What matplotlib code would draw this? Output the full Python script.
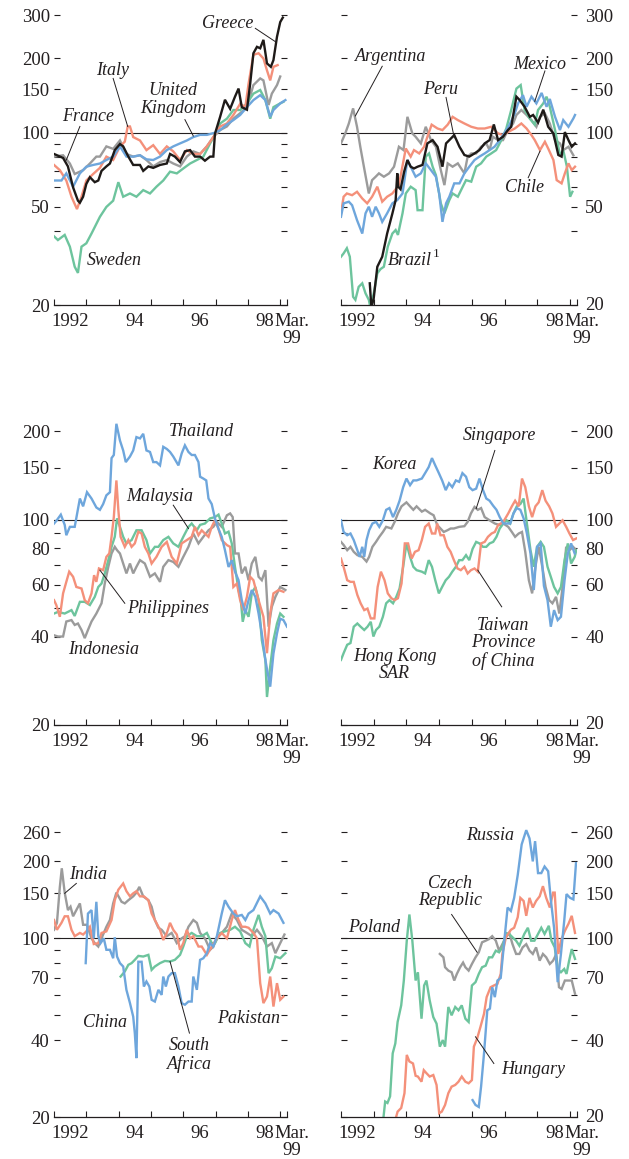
import matplotlib
matplotlib.use('Agg')
import matplotlib.pyplot as plt
from matplotlib.ticker import FixedLocator, NullFormatter, NullLocator

plt.rcParams['font.family'] = ['Liberation Serif', 'DejaVu Serif']

# Equity price indices (Jan 1997 = 100), read as (year, value)
GREECE = [(1992.00,82),(1992.28,79),(1992.43,73),(1992.59,60),(1992.74,53),(1992.80,52),(1992.90,55),(1993.00,62),(1993.11,66),(1993.26,63),(1993.37,64),(1993.47,70),(1993.62,73),(1993.73,75),(1993.88,85),(1994.04,90),(1994.14,88),(1994.30,80),(1994.45,74),(1994.66,74),(1994.76,70),(1994.92,73),(1995.07,72),(1995.28,74),(1995.49,75),(1995.59,82),(1995.74,80),(1995.90,76),(1996.05,84),(1996.21,85),(1996.36,80),(1996.52,80),(1996.67,77),(1996.83,80),(1996.93,80),(1996.98,99),(1997.14,116),(1997.29,136),(1997.45,125),(1997.60,140),(1997.71,151),(1997.81,127),(1997.97,124),(1998.07,158),(1998.17,210),(1998.28,223),(1998.38,220),(1998.48,238),(1998.59,191),(1998.71,185),(1998.79,197),(1998.90,245),(1999.00,281),(1999.08,293)]
ITALY = [(1992.00,74),(1992.18,70.5),(1992.38,64),(1992.54,55),(1992.71,49),(1992.85,55),(1993.00,64),(1993.21,68),(1993.42,72),(1993.62,80),(1993.83,77.5),(1994.04,88),(1994.19,92),(1994.28,106),(1994.35,106),(1994.45,96),(1994.66,93),(1994.86,85),(1995.07,89),(1995.28,82),(1995.49,88),(1995.69,84),(1995.90,77.5),(1996.11,85),(1996.31,82),(1996.52,82),(1996.73,88),(1996.93,96),(1997.04,101),(1997.14,106),(1997.35,109),(1997.55,118),(1997.76,131),(1997.92,127),(1998.02,158),(1998.17,207),(1998.33,210),(1998.48,200),(1998.59,179),(1998.69,163),(1998.79,185),(1998.92,188)]
FRANCE = [(1992.00,80),(1992.28,81),(1992.49,75),(1992.64,68),(1992.90,70.5),(1993.11,75),(1993.31,80),(1993.42,80),(1993.62,88),(1993.83,86),(1994.04,93),(1994.24,82),(1994.45,80),(1994.66,81),(1994.86,77.5),(1995.07,73),(1995.28,76),(1995.49,77.5),(1995.69,75),(1995.90,73),(1996.11,80),(1996.31,84),(1996.52,82),(1996.73,88),(1996.93,96),(1997.14,102.5),(1997.35,106),(1997.55,114),(1997.76,120),(1997.97,127),(1998.17,156),(1998.38,166),(1998.48,163),(1998.64,129.5),(1998.74,144),(1998.90,156),(1999.00,169)]
SWEDEN = [(1992.00,38),(1992.12,36.7),(1992.33,38.5),(1992.49,34.5),(1992.64,28.6),(1992.74,27),(1992.85,34.5),(1993.00,35.6),(1993.16,39),(1993.42,45.6),(1993.62,50),(1993.83,53),(1993.99,63),(1994.14,55),(1994.35,56.7),(1994.55,55),(1994.76,58.5),(1994.97,56.7),(1995.17,60.4),(1995.38,64),(1995.59,69.5),(1995.80,68.4),(1996.00,71.6),(1996.21,75),(1996.42,77.5),(1996.62,80),(1996.83,90.5),(1996.98,98),(1997.14,109),(1997.35,114),(1997.55,123.6),(1997.76,123.6),(1997.97,131.5),(1998.17,144),(1998.38,149),(1998.54,135.6),(1998.69,114),(1998.79,127),(1999.00,131.5),(1999.10,133.5)]
UK = [(1992.00,64),(1992.23,64),(1992.38,68.4),(1992.59,60.4),(1992.80,68.4),(1993.00,72.8),(1993.21,74),(1993.42,75),(1993.62,77.5),(1993.83,80),(1994.04,88),(1994.24,80),(1994.45,80),(1994.66,81),(1994.86,78),(1995.07,77.5),(1995.28,80),(1995.49,85),(1995.69,88),(1995.90,90.5),(1996.11,93),(1996.31,96),(1996.52,98),(1996.73,98),(1996.98,100),(1997.14,102.5),(1997.35,108),(1997.55,112.5),(1997.76,118),(1997.97,127),(1998.17,135.6),(1998.38,142),(1998.54,135.6),(1998.69,116),(1998.79,123.6),(1999.00,131.5),(1999.16,135.6)]

ARGENTINA = [(1992.00,90.5),(1992.13,99.3),(1992.24,109),(1992.37,125.5),(1992.49,105.7),(1992.59,87.7),(1992.70,72.8),(1992.85,56.7),(1992.95,64.2),(1993.06,66.3),(1993.16,68.4),(1993.31,66.3),(1993.47,68.4),(1993.62,72.8),(1993.77,87.7),(1993.91,85),(1994.03,116),(1994.18,99.3),(1994.28,96.3),(1994.44,90.5),(1994.59,105.7),(1994.75,93.3),(1994.90,87.7),(1995.05,70.5),(1995.16,61.3),(1995.26,75.1),(1995.41,72.8),(1995.57,75.1),(1995.77,68.4),(1995.87,80),(1995.98,82.4),(1996.13,82.4),(1996.28,87.7),(1996.44,90.5),(1996.54,85),(1996.64,96.3),(1996.80,93.3),(1996.95,93.3),(1997.10,102.5),(1997.26,109),(1997.36,118),(1997.51,123.6),(1997.67,118),(1997.82,112.5),(1997.97,105.7),(1998.08,116),(1998.23,119.7),(1998.38,109),(1998.54,93.3),(1998.69,90.5),(1998.79,85),(1998.95,87.7),(1999.10,81)]
CHILE = [(1992.00,47.1),(1992.08,55),(1992.18,56.7),(1992.34,55.8),(1992.49,57.6),(1992.65,54.1),(1992.80,51.7),(1992.95,55),(1993.11,60.4),(1993.26,52.5),(1993.41,55),(1993.57,56.7),(1993.77,61.3),(1993.98,86.3),(1994.13,80),(1994.23,85),(1994.39,82.4),(1994.54,87.7),(1994.64,96.3),(1994.77,107.8),(1994.95,104),(1995.10,102.5),(1995.26,107.8),(1995.41,116),(1995.57,112.5),(1995.77,109),(1995.98,105.7),(1996.18,104),(1996.39,104),(1996.59,105.7),(1996.80,99.3),(1996.95,97.8),(1997.10,100.6),(1997.31,104),(1997.51,109),(1997.67,104),(1997.82,97.8),(1997.92,93.3),(1998.08,85),(1998.23,91.9),(1998.33,86.3),(1998.49,77.5),(1998.59,64.2),(1998.74,62.3),(1998.84,68.4),(1998.95,75.1),(1999.05,70.5),(1999.15,72.8)]
PERU = [(1992.88,24.5),(1992.93,19.5),(1993.00,21.3),(1993.11,28.6),(1993.26,31.4),(1993.41,39),(1993.57,47),(1993.67,53.3),(1993.72,68.4),(1993.75,60.4),(1993.82,59),(1993.93,69.5),(1994.03,77.5),(1994.13,72.8),(1994.23,71.6),(1994.34,72.8),(1994.49,74),(1994.64,90.5),(1994.80,93.3),(1994.95,87.7),(1995.10,72.8),(1995.21,90.5),(1995.31,93.3),(1995.46,97.8),(1995.62,87.7),(1995.77,81.2),(1995.92,80),(1996.08,82.4),(1996.23,85),(1996.39,90.5),(1996.54,93.3),(1996.67,108),(1996.80,93.3),(1996.95,96.3),(1997.10,102.5),(1997.20,105.7),(1997.36,140),(1997.46,135.6),(1997.61,127.4),(1997.77,116),(1997.87,118),(1998.02,110),(1998.18,124),(1998.33,105.7),(1998.49,99.3),(1998.64,81.2),(1998.74,80),(1998.84,100.6),(1998.95,93.3),(1999.05,87.7),(1999.15,90.5)]
BRAZIL = [(1992.00,31.4),(1992.08,32.4),(1992.18,34),(1992.27,31.4),(1992.37,21.6),(1992.44,21),(1992.54,23.7),(1992.65,24.5),(1992.75,22.3),(1992.85,21),(1992.90,19.5),(1993.00,22.3),(1993.11,26.9),(1993.21,28),(1993.31,28.6),(1993.43,34.5),(1993.57,39),(1993.67,40.3),(1993.74,38.5),(1993.88,47.1),(1993.98,56.7),(1994.13,60.4),(1994.28,58.5),(1994.34,48.5),(1994.49,48.5),(1994.59,80),(1994.69,82.4),(1994.80,72.8),(1994.90,67.3),(1995.05,51.7),(1995.16,47.1),(1995.31,53.3),(1995.41,56.7),(1995.57,55),(1995.72,60.4),(1995.82,64.2),(1995.98,63.3),(1996.13,72.8),(1996.28,75.1),(1996.44,80),(1996.59,82.4),(1996.74,85),(1996.90,93.3),(1997.05,104),(1997.20,123.6),(1997.36,151),(1997.49,156),(1997.61,123.6),(1997.77,114),(1997.92,107.8),(1998.02,123.6),(1998.18,131.5),(1998.28,140),(1998.38,127.4),(1998.54,102.5),(1998.69,81.2),(1998.79,85),(1998.90,73),(1999.00,55),(1999.07,57.6)]
MEXICO = [(1992.00,45.6),(1992.08,51.7),(1992.24,52.5),(1992.34,50.8),(1992.49,44.2),(1992.65,39),(1992.75,47.1),(1992.85,50.1),(1992.95,45.6),(1993.06,50.1),(1993.16,47.1),(1993.26,43.5),(1993.41,47.1),(1993.57,51.7),(1993.72,53.3),(1993.88,56.7),(1994.03,77.5),(1994.13,72.8),(1994.28,66.3),(1994.44,68.4),(1994.59,75.1),(1994.75,70.5),(1994.90,66.3),(1995.00,56.7),(1995.10,43.5),(1995.21,51.7),(1995.31,55),(1995.46,62.3),(1995.62,62.3),(1995.77,68.4),(1995.92,72.8),(1996.08,77.5),(1996.23,80),(1996.39,82.4),(1996.54,85),(1996.69,87.7),(1996.85,93.3),(1997.00,100),(1997.15,107.8),(1997.31,119.7),(1997.41,131.5),(1997.56,142),(1997.67,127.4),(1997.82,140),(1997.97,131.5),(1998.13,145),(1998.28,127.4),(1998.38,137),(1998.54,116),(1998.69,102.5),(1998.79,112.5),(1998.95,105.7),(1999.10,114.3),(1999.15,118)]

THAILAND = [(1992.00,97),(1992.07,99),(1992.21,104),(1992.33,96),(1992.38,88.5),(1992.49,94.5),(1992.64,94.5),(1992.80,118),(1992.90,111),(1993.02,124),(1993.16,118),(1993.31,110),(1993.42,108),(1993.52,113),(1993.62,121),(1993.73,124),(1993.78,162),(1993.85,166),(1993.93,212),(1994.04,186),(1994.14,172),(1994.22,157),(1994.35,164),(1994.45,172),(1994.55,191),(1994.66,189),(1994.76,196),(1994.86,172),(1994.97,170),(1995.07,157),(1995.17,157),(1995.28,153),(1995.38,177),(1995.49,174),(1995.59,170),(1995.69,164),(1995.85,153),(1995.95,168),(1996.05,179),(1996.16,170),(1996.26,166),(1996.36,166),(1996.47,157),(1996.52,140),(1996.62,138),(1996.71,136),(1996.78,118),(1996.88,113),(1996.98,101),(1997.09,93),(1997.19,87.4),(1997.29,78.7),(1997.40,69),(1997.50,72.8),(1997.60,66.5),(1997.71,62.2),(1997.81,53.2),(1997.92,47.9),(1998.02,53.2),(1998.12,57.6),(1998.23,54.6),(1998.33,47.9),(1998.43,41),(1998.54,33.3),(1998.59,31),(1998.69,27),(1998.79,35),(1998.90,41),(1999.00,46),(1999.10,45.5),(1999.21,43.2)]
MALAYSIA = [(1992.00,47.9),(1992.12,48.5),(1992.33,47.9),(1992.54,49.2),(1992.64,47),(1992.80,52.5),(1992.95,52.5),(1993.11,51.2),(1993.26,54.6),(1993.37,59),(1993.47,60.6),(1993.57,65.6),(1993.68,72.8),(1993.78,80.8),(1993.88,87.4),(1993.95,101),(1994.04,94.5),(1994.14,87.4),(1994.24,83),(1994.40,85.2),(1994.55,92),(1994.71,92),(1994.86,85.2),(1994.97,76.7),(1995.12,80.8),(1995.23,80.8),(1995.38,85.2),(1995.54,87.4),(1995.69,83),(1995.85,80.8),(1996.00,87.4),(1996.16,94.5),(1996.26,97),(1996.42,92),(1996.52,96),(1996.67,97),(1996.83,101),(1996.98,102),(1997.09,104),(1997.19,97),(1997.29,89.7),(1997.40,91),(1997.50,83),(1997.60,69),(1997.71,57.6),(1997.78,53.2),(1997.84,44.9),(1997.92,49.2),(1998.02,46.7),(1998.12,56.1),(1998.23,59),(1998.33,53.2),(1998.43,38.9),(1998.54,33.3),(1998.59,24.9),(1998.69,31.6),(1998.79,38.9),(1998.90,44.3),(1999.00,47.9),(1999.10,46.7)]
PHILIPPINES = [(1992.00,53.2),(1992.07,51.2),(1992.18,46.7),(1992.28,56.1),(1992.38,61.4),(1992.47,66.5),(1992.59,63.9),(1992.69,59),(1992.85,58.3),(1992.95,53.2),(1993.05,51.9),(1993.16,56.1),(1993.24,64.7),(1993.31,61.4),(1993.39,68.2),(1993.52,67.3),(1993.62,74.7),(1993.71,76.7),(1993.78,87.4),(1993.85,102),(1993.93,136),(1993.99,108),(1994.06,87.4),(1994.19,80.8),(1994.30,85.2),(1994.40,80.8),(1994.50,83),(1994.61,91),(1994.71,89.7),(1994.81,80.8),(1994.92,76.7),(1995.02,70.9),(1995.17,74.7),(1995.33,80.8),(1995.49,84),(1995.64,74.7),(1995.80,70.9),(1995.95,83),(1996.11,85.2),(1996.26,87.4),(1996.36,94.5),(1996.47,88.5),(1996.57,92),(1996.67,89.7),(1996.78,87.4),(1996.88,94.5),(1996.98,99.5),(1997.09,93),(1997.19,85.2),(1997.35,81.9),(1997.45,80.8),(1997.55,59),(1997.66,60.6),(1997.76,53.2),(1997.86,49.2),(1997.97,54.6),(1998.07,63.9),(1998.17,62.2),(1998.33,53.2),(1998.48,46.7),(1998.59,35.1),(1998.69,47.9),(1998.79,56.1),(1998.95,57.6),(1999.10,56.8)]
INDONESIA = [(1992.00,40.4),(1992.12,40),(1992.28,40),(1992.38,45),(1992.54,45.5),(1992.64,43.8),(1992.74,44.3),(1992.85,42.1),(1992.95,39.5),(1993.05,42.1),(1993.16,45),(1993.31,47.9),(1993.47,51.9),(1993.57,60.6),(1993.68,69.1),(1993.78,76.7),(1993.88,80.8),(1993.95,78.7),(1994.04,76.7),(1994.14,70.9),(1994.24,65.6),(1994.35,70.9),(1994.45,65.6),(1994.55,69.1),(1994.66,72.8),(1994.81,70.9),(1994.97,63.9),(1995.12,65.6),(1995.28,61.4),(1995.38,69.1),(1995.54,72.8),(1995.69,71.8),(1995.85,69.1),(1996.00,74.7),(1996.16,80.8),(1996.31,89.7),(1996.47,83),(1996.62,87.4),(1996.78,92),(1996.93,94.5),(1997.04,98.3),(1997.19,94.5),(1997.35,103.5),(1997.45,105),(1997.53,102),(1997.60,76.7),(1997.71,76.7),(1997.81,65.6),(1997.92,69.1),(1998.02,62.2),(1998.12,70.9),(1998.23,74.7),(1998.33,63.9),(1998.43,62.2),(1998.54,67.3),(1998.64,43.2),(1998.74,50.5),(1998.85,54.6),(1999.00,59),(1999.16,57.6)]

KOREA = [(1992.00,99.5),(1992.08,90.8),(1992.19,88.5),(1992.29,89.7),(1992.39,85.2),(1992.50,78.7),(1992.57,74.7),(1992.65,80.8),(1992.71,74.7),(1992.78,85.2),(1992.86,92),(1992.96,97),(1993.07,98.3),(1993.17,94.5),(1993.28,99.5),(1993.38,108),(1993.48,109.5),(1993.59,102),(1993.69,108),(1993.79,116),(1993.90,129),(1994.00,138),(1994.11,131),(1994.21,136),(1994.31,136),(1994.47,138),(1994.57,144),(1994.68,151),(1994.78,162),(1994.88,153),(1994.99,144),(1995.09,136),(1995.20,126),(1995.30,133),(1995.40,129),(1995.51,136),(1995.61,134.5),(1995.71,144),(1995.82,140),(1995.92,129),(1996.02,126),(1996.13,127.5),(1996.23,138),(1996.34,126),(1996.44,118),(1996.54,116),(1996.65,111.5),(1996.75,108),(1996.85,102),(1996.96,97),(1997.06,97),(1997.17,97),(1997.27,105),(1997.37,109.5),(1997.48,108),(1997.58,101),(1997.68,89.7),(1997.79,76.7),(1997.89,57.6),(1997.99,80.8),(1998.10,83),(1998.20,59.5),(1998.31,53.2),(1998.41,43.2),(1998.51,49.2),(1998.62,45.5),(1998.72,46.7),(1998.83,62.2),(1998.93,76.7),(1999.03,83),(1999.14,76.7)]
SINGAPORE = [(1992.00,84),(1992.08,82),(1992.19,78.7),(1992.29,80.8),(1992.39,77.7),(1992.50,75.7),(1992.65,74.7),(1992.78,72),(1992.86,74.7),(1992.96,80.8),(1993.07,84),(1993.17,87.4),(1993.28,90.8),(1993.38,94.5),(1993.54,93.3),(1993.64,98.3),(1993.74,105),(1993.85,111),(1994.00,114.5),(1994.11,111),(1994.21,108),(1994.31,111),(1994.47,106.5),(1994.57,108),(1994.73,105),(1994.83,103.5),(1994.94,95.8),(1995.04,93.3),(1995.14,90.8),(1995.25,92),(1995.35,93.3),(1995.45,93.3),(1995.61,94.5),(1995.77,95),(1995.87,98.3),(1995.97,105),(1996.08,110.5),(1996.18,108),(1996.28,109.5),(1996.39,102),(1996.54,99.5),(1996.70,97),(1996.85,95.8),(1996.96,97),(1997.11,94.5),(1997.22,90.8),(1997.32,87.4),(1997.43,89.7),(1997.53,90.8),(1997.63,77.7),(1997.74,62.2),(1997.84,56.1),(1997.94,69.1),(1998.04,80.8),(1998.15,69.1),(1998.25,59),(1998.36,53.2),(1998.46,51.9),(1998.57,54.6),(1998.67,47.9),(1998.77,59),(1998.88,80.8),(1998.98,78.7),(1999.09,80.8),(1999.19,78.7)]
TAIWAN = [(1992.00,73.7),(1992.08,69.1),(1992.19,62.2),(1992.29,61.4),(1992.39,61.4),(1992.50,55.4),(1992.60,51.9),(1992.71,49.2),(1992.81,49.8),(1992.91,46.1),(1993.02,46.1),(1993.12,59),(1993.22,66.5),(1993.33,62.2),(1993.43,56.1),(1993.54,54),(1993.64,53.2),(1993.74,54),(1993.85,60.6),(1993.95,83),(1994.05,83),(1994.16,73.7),(1994.26,77.7),(1994.37,78.7),(1994.47,85.2),(1994.57,94.5),(1994.68,97),(1994.78,89.7),(1994.88,89.7),(1994.94,97),(1995.04,88.5),(1995.14,88.5),(1995.25,80.8),(1995.35,77.7),(1995.45,72.8),(1995.56,68.2),(1995.66,67.3),(1995.77,69.1),(1995.87,65.6),(1995.97,67.3),(1996.08,68.2),(1996.18,66.5),(1996.28,83),(1996.39,84),(1996.49,87.4),(1996.60,89.7),(1996.70,90.8),(1996.80,95.8),(1996.96,98.3),(1997.11,105),(1997.22,111),(1997.32,116),(1997.43,111),(1997.53,138),(1997.63,129),(1997.74,111),(1997.84,102),(1997.94,111),(1998.04,114.5),(1998.15,126),(1998.25,116),(1998.36,111),(1998.46,105),(1998.57,94.5),(1998.67,97),(1998.77,99.5),(1998.88,94.5),(1998.98,89.7),(1999.09,85.2),(1999.19,86.3)]
HONG_KONG = [(1992.00,33.3),(1992.08,35.1),(1992.19,37.5),(1992.29,38),(1992.39,43.2),(1992.50,44.3),(1992.60,43.2),(1992.71,42.1),(1992.81,43.2),(1992.91,44.9),(1992.99,40),(1993.07,42.1),(1993.17,43.2),(1993.28,46.7),(1993.38,51.9),(1993.48,53.2),(1993.59,51.9),(1993.69,54.6),(1993.79,58.3),(1993.90,69.1),(1994.00,83),(1994.11,74.7),(1994.21,69.1),(1994.31,67.3),(1994.47,66.5),(1994.57,65.6),(1994.68,72.8),(1994.78,69.1),(1994.88,62.2),(1994.99,56.1),(1995.09,59),(1995.20,62.2),(1995.30,63.9),(1995.40,66.5),(1995.51,69.1),(1995.61,72.8),(1995.71,72.8),(1995.82,75.7),(1995.92,72.8),(1996.02,79.5),(1996.13,84),(1996.23,83),(1996.34,80.8),(1996.44,80.8),(1996.54,83),(1996.65,84),(1996.75,87.4),(1996.85,93.3),(1996.96,97),(1997.06,99.5),(1997.17,97),(1997.27,105),(1997.37,111),(1997.48,113),(1997.58,118),(1997.68,97),(1997.79,78.7),(1997.89,69.1),(1997.99,80.8),(1998.10,84),(1998.20,80.8),(1998.31,69.1),(1998.41,63.9),(1998.51,59),(1998.62,56.1),(1998.72,59),(1998.83,72.8),(1998.93,83),(1999.03,70.9),(1999.14,74.7),(1999.19,78.7)]

CHINA = [(1992.98,80),(1993.05,125),(1993.16,129),(1993.23,100),(1993.31,139),(1993.37,102),(1993.44,95.8),(1993.54,100),(1993.62,90.2),(1993.73,90.2),(1993.83,83.6),(1993.88,101),(1993.95,84.9),(1994.04,80),(1994.14,77.6),(1994.24,62.9),(1994.35,55.8),(1994.45,49.4),(1994.50,42.6),(1994.55,34),(1994.61,81),(1994.71,81),(1994.78,64.8),(1994.86,67.8),(1994.95,64.8),(1995.02,57.5),(1995.12,56.6),(1995.23,62.9),(1995.33,60.1),(1995.38,70.9),(1995.46,64.8),(1995.54,70.9),(1995.64,73.1),(1995.74,73.1),(1995.85,64.8),(1995.95,55.8),(1996.05,55),(1996.16,56.6),(1996.26,56.6),(1996.31,70.9),(1996.42,62.9),(1996.52,82.4),(1996.62,83.6),(1996.73,87.5),(1996.83,95.8),(1996.93,92.9),(1997.04,102),(1997.19,125),(1997.29,141),(1997.40,133),(1997.55,125),(1997.66,122),(1997.81,123.5),(1997.92,118),(1998.02,125),(1998.17,129),(1998.38,146),(1998.54,137),(1998.69,125),(1998.79,129),(1998.95,125),(1999.10,115)]
SOUTH_AFRICA = [(1994.06,70.9),(1994.19,74.2),(1994.30,78.8),(1994.40,80),(1994.50,82.4),(1994.61,85.4),(1994.76,84.9),(1994.92,86.2),(1995.02,75.3),(1995.12,77.6),(1995.28,80),(1995.43,81.6),(1995.59,81.2),(1995.74,82.4),(1995.90,86.2),(1996.00,92.9),(1996.11,102),(1996.26,105),(1996.42,102),(1996.57,102),(1996.73,105),(1996.88,95.8),(1996.98,95.8),(1997.14,105),(1997.29,106.5),(1997.45,108),(1997.60,111),(1997.76,106.5),(1997.92,95.8),(1998.05,92.9),(1998.17,108),(1998.33,123.5),(1998.43,111),(1998.54,102),(1998.64,73.1),(1998.74,76.4),(1998.85,84.9),(1999.00,83.6),(1999.16,87.5)]
PAKISTAN = [(1992.00,118),(1992.09,108),(1992.23,115),(1992.33,122),(1992.43,122),(1992.54,108),(1992.64,102),(1992.80,105),(1992.90,103.5),(1993.00,106.5),(1993.11,111),(1993.23,95),(1993.37,95.8),(1993.47,105),(1993.62,106.5),(1993.78,118),(1993.88,141),(1993.99,155),(1994.14,164),(1994.24,153),(1994.35,146),(1994.45,150),(1994.55,153),(1994.66,146),(1994.78,146),(1994.92,141),(1995.02,125),(1995.12,118),(1995.28,108),(1995.38,98.5),(1995.49,105),(1995.59,115),(1995.69,108),(1995.80,103.5),(1995.90,90.2),(1996.00,95.8),(1996.11,108),(1996.21,100),(1996.31,102),(1996.47,92.9),(1996.57,92.9),(1996.73,86.2),(1996.88,92.9),(1997.04,100),(1997.19,105),(1997.35,100),(1997.50,118),(1997.60,129),(1997.71,118),(1997.81,111),(1997.92,111),(1998.02,110),(1998.17,105),(1998.28,100),(1998.38,66.8),(1998.48,55.8),(1998.59,59.2),(1998.69,70.9),(1998.79,54.1),(1998.90,66.8),(1999.00,57.5),(1999.10,59.2)]
INDIA = [(1992.00,108),(1992.09,115),(1992.18,159),(1992.24,188),(1992.33,151),(1992.43,129),(1992.51,133),(1992.59,122),(1992.69,129),(1992.80,137),(1992.90,113),(1993.02,113),(1993.16,100),(1993.26,95.8),(1993.37,92.9),(1993.47,100),(1993.62,111),(1993.73,118),(1993.83,137),(1993.93,151),(1994.09,139),(1994.19,137),(1994.30,141),(1994.45,146),(1994.55,151),(1994.64,159),(1994.76,146),(1994.92,141),(1995.02,133),(1995.12,118),(1995.23,110),(1995.33,108),(1995.49,102),(1995.64,105),(1995.80,95.8),(1995.95,100),(1996.05,102),(1996.16,111),(1996.31,118),(1996.42,115),(1996.52,105),(1996.67,100),(1996.83,90.2),(1996.93,92.9),(1997.04,100),(1997.19,105),(1997.35,111),(1997.50,125),(1997.66,118),(1997.81,108),(1997.97,105),(1998.12,102),(1998.28,108),(1998.43,102),(1998.59,92.9),(1998.74,95.8),(1998.85,87.5),(1999.00,95.8),(1999.13,103.5)]

POLAND = [(1993.29,19.5),(1993.35,23),(1993.42,22.7),(1993.50,24.1),(1993.58,35.5),(1993.66,38.8),(1993.73,47.1),(1993.84,54.7),(1993.92,68.4),(1994.01,97.9),(1994.09,124),(1994.18,97.9),(1994.28,68.4),(1994.35,73.7),(1994.46,48.5),(1994.54,65.4),(1994.61,68.4),(1994.71,57.2),(1994.82,49.2),(1994.92,46.4),(1995.02,37.7),(1995.11,40),(1995.18,37.7),(1995.28,53.9),(1995.38,50),(1995.49,53.9),(1995.59,52.3),(1995.69,54.7),(1995.80,48.5),(1995.90,47.1),(1996.00,65.4),(1996.11,67.4),(1996.21,72.6),(1996.31,77.1),(1996.42,78.2),(1996.52,84.3),(1996.62,84.3),(1996.73,89.5),(1996.83,88.2),(1996.93,92.2),(1997.04,105),(1997.14,104),(1997.24,101),(1997.35,97.9),(1997.45,93.6),(1997.60,104),(1997.71,110),(1997.81,97.9),(1997.91,97.9),(1998.02,104),(1998.12,110),(1998.22,104),(1998.35,112),(1998.43,97.9),(1998.53,92.2),(1998.62,75.9),(1998.72,73.7),(1998.82,75.9),(1998.89,72.6),(1998.97,81.8),(1999.05,90.8),(1999.15,83.1)]
HUNGARY = [(1993.66,19.5),(1993.73,21),(1993.84,21.7),(1993.94,24.8),(1994.01,35),(1994.09,33),(1994.20,32.4),(1994.28,29),(1994.35,28.8),(1994.46,27.5),(1994.53,30.5),(1994.61,29.7),(1994.71,28.8),(1994.82,29.2),(1994.92,26.7),(1995.00,20.7),(1995.08,21),(1995.18,22.3),(1995.28,24.8),(1995.38,26.3),(1995.49,26.7),(1995.59,27.5),(1995.69,28.8),(1995.80,27.5),(1995.90,27.1),(1996.00,27.9),(1996.06,37.7),(1996.16,40.6),(1996.26,45),(1996.37,50.7),(1996.45,58.9),(1996.57,64.4),(1996.67,65.4),(1996.78,66.4),(1996.88,72.6),(1996.93,86.9),(1997.04,101),(1997.19,108),(1997.29,110),(1997.40,121),(1997.48,144),(1997.58,140),(1997.66,122.5),(1997.76,144),(1997.86,132),(1997.96,140),(1998.07,146),(1998.17,160),(1998.27,144),(1998.38,132),(1998.48,151),(1998.53,151),(1998.64,86.9),(1998.72,97.9),(1998.84,107),(1998.95,114),(1999.05,122.5),(1999.15,105)]
RUSSIA = [(1996.02,23.3),(1996.11,22.3),(1996.21,21.9),(1996.28,26.3),(1996.37,35.5),(1996.47,52.3),(1996.55,53.1),(1996.62,64.4),(1996.70,58.9),(1996.78,68.4),(1996.88,70),(1996.98,95),(1997.09,132),(1997.19,128),(1997.29,144),(1997.40,177),(1997.52,233),(1997.66,265),(1997.76,246),(1997.86,200),(1997.93,240),(1998.02,180),(1998.12,180),(1998.22,191),(1998.33,183),(1998.41,142),(1998.51,110),(1998.62,67.4),(1998.72,86.9),(1998.82,117),(1998.89,149),(1999.00,144),(1999.10,142),(1999.18,197)]
CZECH = [(1995.02,86.9),(1995.13,84.3),(1995.18,77.1),(1995.28,74.8),(1995.38,73.7),(1995.46,68.4),(1995.54,72.6),(1995.64,77.1),(1995.73,80.4),(1995.80,77.1),(1995.90,74.8),(1996.00,79.4),(1996.11,84.3),(1996.21,88.2),(1996.31,96.5),(1996.42,97.9),(1996.52,99.3),(1996.62,102),(1996.73,97.9),(1996.83,89.5),(1996.93,94.9),(1997.04,101),(1997.14,105),(1997.24,94.9),(1997.35,86.9),(1997.45,86.9),(1997.55,92.2),(1997.66,94.9),(1997.76,89.5),(1997.86,86.9),(1997.96,92.2),(1998.07,81.8),(1998.17,86.9),(1998.27,84.3),(1998.38,79.4),(1998.48,81.8),(1998.58,86.9),(1998.66,64.4),(1998.74,63.4),(1998.84,68.4),(1998.95,68.4),(1999.05,68.4),(1999.15,60.7)]

BLACK = '#1e1a18'
SALMON = '#f4907a'
GRAY = '#9b9b9b'
GREEN = '#6dc49d'
BLUE = '#6ea6dc'
TEXT = '#231f20'

fig = plt.figure(figsize=(6.29, 11.59), dpi=100)

LEFT_X, LEFT_W = 0.0859, 0.3704
RIGHT_X, RIGHT_W = 0.5421, 0.3752
ROWS = [(0.7368, 0.2502, 300, [20, 50, 100, 150, 200, 300], [40, 60, 70, 80, 90]),
        (0.3745, 0.2614, 215, [20, 40, 60, 80, 100, 150, 200], [50, 70, 90]),
        (0.0362, 0.2528, 280, [20, 40, 70, 100, 150, 200, 260], [50, 60, 80, 90])]


def setup(ax, ymax, major, minor, right):
    ax.set_yscale('log')
    ax.set_xlim(1992.0, 1999.21)
    ax.set_ylim(20, ymax)
    for s in ('left', 'right', 'top'):
        ax.spines[s].set_visible(False)
    ax.spines['bottom'].set_linewidth(0.9)
    ax.spines['bottom'].set_color(TEXT)
    ax.yaxis.set_major_locator(FixedLocator(major))
    ax.yaxis.set_minor_locator(FixedLocator(minor))
    ax.set_yticklabels([str(v) for v in major])
    ax.yaxis.set_minor_formatter(NullFormatter())
    ax.tick_params(axis='y', which='both', direction='in', length=4.5, width=0.8,
                   left=True, right=True, labelleft=not right, labelright=right,
                   labelsize=13.5, pad=6 if right else 3, colors=TEXT)
    ax.xaxis.set_major_locator(FixedLocator(list(range(1992, 2000)) + [1999.21]))
    ax.xaxis.set_minor_locator(NullLocator())
    ax.set_xticklabels([])
    ax.tick_params(axis='x', direction='in', length=4, width=0.8, colors=TEXT)
    ax.axhline(100, color=TEXT, lw=0.8, zorder=1)
    for x, lab in [(1992.5, '1992'), (1994.5, '94'), (1996.5, '96'), (1998.52, '98'),
                   (1999.35, 'Mar.\n99')]:
        ax.annotate(lab, (x, 0), xycoords=('data', 'axes fraction'), xytext=(0, -6),
                    textcoords='offset points', ha='center', va='top', fontsize=13.5,
                    color=TEXT, linespacing=0.95, annotation_clip=False)


def draw(ax, series):
    for data, color in series:
        xs = [p[0] for p in data]
        ys = [p[1] for p in data]
        ax.plot(xs, ys, color=color, lw=1.7, solid_joinstyle='miter', zorder=2)


def label(ax, text, x, y, line=None):
    ax.text(x, y, text, ha='center', va='center', style='italic', fontsize=13,
            color=TEXT, linespacing=1.05, zorder=4)
    if line is not None:
        (x0, y0), (x1, y1) = line
        ax.plot([x0, x1], [y0, y1], color=TEXT, lw=0.7, zorder=3)


axes = []
for bottom, height, ymax, major, minor in ROWS:
    a_l = fig.add_axes([LEFT_X, bottom, LEFT_W, height])
    a_r = fig.add_axes([RIGHT_X, bottom, RIGHT_W, height])
    setup(a_l, ymax, major, minor, False)
    setup(a_r, ymax, major, minor, True)
    # the bottom "20" on the right-hand panels sits just above the axis line
    a_r.get_yticklabels()[0].set_verticalalignment('center')
    axes.append((a_l, a_r))

# Row 1
ax1, ax2 = axes[0]
draw(ax1, [(FRANCE, GRAY), (SWEDEN, GREEN), (ITALY, SALMON), (UK, BLUE), (GREECE, BLACK)])
label(ax1, 'Greece', 1997.38, 277, ((1998.23, 265), (1998.85, 234)))
label(ax1, 'Italy', 1993.80, 179, ((1993.83, 166), (1994.28, 106)))
label(ax1, 'United\nKingdom', 1995.69, 136, ((1996.05, 113), (1996.31, 97)))
label(ax1, 'France', 1993.05, 116, ((1992.80, 106), (1992.38, 77.5)))
label(ax1, 'Sweden', 1993.88, 30.4)

draw(ax2, [(ARGENTINA, GRAY), (BRAZIL, GREEN), (CHILE, SALMON), (MEXICO, BLUE), (PERU, BLACK)])
label(ax2, 'Argentina', 1993.52, 203, ((1993.26, 186), (1992.44, 117)))
label(ax2, 'Peru', 1995.03, 150, ((1995.21, 139), (1995.46, 95.4)))
label(ax2, 'Mexico', 1998.08, 189, ((1998.23, 178), (1997.92, 134)))
label(ax2, 'Chile', 1997.61, 59.8, ((1997.72, 65.7), (1998.08, 84.2)))
ax2.text(1994.77, 30.2, 'Brazil', ha='right', va='center', style='italic', fontsize=13, color=TEXT)
ax2.text(1994.80, 32.2, '1', ha='left', va='center', fontsize=9.5, color=TEXT)

# Row 2
ax3, ax4 = axes[1]
draw(ax3, [(INDONESIA, GRAY), (MALAYSIA, GREEN), (PHILIPPINES, SALMON), (THAILAND, BLUE)])
label(ax3, 'Thailand', 1996.57, 199)
label(ax3, 'Malaysia', 1995.28, 120, ((1995.69, 112), (1996.16, 93.3)))
label(ax3, 'Philippines', 1995.54, 49.9, ((1994.19, 51.9), (1993.42, 67.3)))
label(ax3, 'Indonesia', 1993.52, 36.0)

draw(ax4, [(SINGAPORE, GRAY), (HONG_KONG, GREEN), (TAIWAN, SALMON), (KOREA, BLUE)])
label(ax4, 'Singapore', 1996.85, 194, ((1996.70, 172), (1996.13, 109)))
label(ax4, 'Korea', 1993.64, 154)
label(ax4, 'Taiwan\nProvince\nof China', 1996.96, 37.9, ((1996.91, 50.5), (1996.18, 67.3)))
label(ax4, 'Hong Kong\nSAR', 1993.64, 32.0)

# Row 3
ax5, ax6 = axes[2]
draw(ax5, [(INDIA, GRAY), (SOUTH_AFRICA, GREEN), (PAKISTAN, SALMON), (CHINA, BLUE)])
label(ax5, 'India', 1993.05, 177, ((1992.69, 164), (1992.33, 150)))
label(ax5, 'China', 1993.57, 46.9)
label(ax5, 'South\nAfrica', 1996.19, 35.0, ((1996.19, 42.6), (1995.59, 81.2)))
label(ax5, 'Pakistan', 1998.02, 48.8)

draw(ax6, [(CZECH, GRAY), (POLAND, GREEN), (HUNGARY, SALMON), (RUSSIA, BLUE)])
label(ax6, 'Russia', 1996.57, 253)
label(ax6, 'Czech\nRepublic', 1995.33, 152, ((1995.38, 124), (1996.16, 88.2)))
label(ax6, 'Poland', 1993.01, 110)
label(ax6, 'Hungary', 1997.86, 30.6, ((1996.67, 32.4), (1996.11, 41.2)))

fig.savefig('out.png', dpi=100)
